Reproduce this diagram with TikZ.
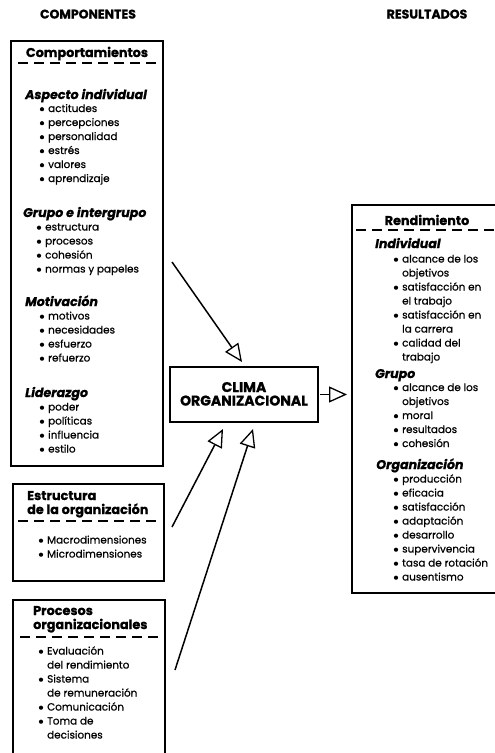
\documentclass[tikz,border=0pt]{standalone}
\usepackage{fontspec}
\setmainfont{Poppins}
\newfontfamily\itemfont{Poppins}[FakeBold=0.7]
\newfontfamily\headfont{Poppins}[FakeBold=1]
\usetikzlibrary{arrows.meta}
% bullet list: #1 name prefix, #2 x of text, #3 baseline of first line,
% #4 entries text/flag (flag 1 = line starts with a bullet)
\newcommand\blist[4]{%
  \foreach \txt/\flag [count=\i] in {#4} {%
    \node[item] (#1-\i) at (#2, {#3+14*(\i-1)}) {\txt};
    \ifnum\flag=1 \fill ([xshift=-6pt, yshift=2.8pt]#1-\i.base west) circle (2.1pt);\fi
  }}
\begin{document}
\begin{tikzpicture}[x=1pt, y=-1pt,
  frame/.style={draw, line width=1.2pt, inner sep=0pt, outer sep=0pt, anchor=north west},
  sep/.style={line width=1.3pt, dash pattern=on 10pt off 6pt},
  item/.style={anchor=base west, inner sep=0pt, font=\itemfont\fontsize{10.4}{12}\selectfont},
  subhead/.style={anchor=base west, inner sep=0pt, font=\headfont\fontsize{12.6}{14}\selectfont\bfseries\itshape},
  boxhead/.style={anchor=base west, inner sep=0pt, font=\headfont\fontsize{12.8}{14}\selectfont\bfseries},
  coltitle/.style={anchor=base, inner sep=0pt, font=\headfont\fontsize{12.5}{14}\selectfont\bfseries},
  climatext/.style={anchor=base, inner sep=0pt, font=\headfont\fontsize{14}{15}\selectfont\bfseries},
  feed/.style={line width=1.5pt, -{Triangle[open, length=18pt, width=16pt, line width=1.3pt]}}
]
\useasboundingbox (0,0) rectangle (495,753);
\clip (0,0) rectangle (495,753);

% column titles
\node[coltitle] (tcomp) at (88,18.5) {COMPONENTES};
\node[coltitle] (tres) at (427,18.5) {RESULTADOS};

% ---- Comportamientos
\node[frame, minimum width=152pt, minimum height=425pt] (comp) at (11,41) {};
\node[boxhead, anchor=base] (comph) at (87,57) {Comportamientos};
\draw[sep] (18,63) -- (158,63);
\node[subhead] (ai) at (25,99) {Aspecto individual};
\blist{aii}{48}{112}{actitudes/1, percepciones/1, personalidad/1, estrés/1, valores/1, aprendizaje/1}
\node[subhead] (gi) at (23,217) {Grupo e intergrupo};
\blist{gii}{45}{230.5}{estructura/1, procesos/1, cohesión/1, normas y papeles/1}
\node[subhead] (mo) at (25,306) {Motivación};
\blist{moi}{48}{319.5}{motivos/1, necesidades/1, esfuerzo/1, refuerzo/1}
\node[subhead] (li) at (25,397) {Liderazgo};
\blist{lii}{48}{410.5}{poder/1, políticas/1, influencia/1, estilo/1}

% ---- Estructura de la organizacion
\node[frame, minimum width=151pt, minimum height=97pt] (estr) at (13,484) {};
\node[boxhead] (estrh1) at (27,500) {Estructura};
\node[boxhead] (estrh2) at (27,514) {de la organización};
\draw[sep] (18,521) -- (158,521);
\blist{esi}{47}{543.5}{Macrodimensiones/1, Microdimensiones/1}

% ---- Procesos organizacionales (runs off the lower edge)
\node[frame, minimum width=152pt, minimum height=170pt] (proc) at (13,600) {};
\node[boxhead] (proch1) at (33,615) {Procesos};
\node[boxhead] (proch2) at (33,629) {organizacionales};
\draw[sep] (20,637) -- (158,637);
\blist{pri}{47}{654.5}{Evaluación/1, del rendimiento/0, Sistema/1, de remuneración/0, Comunicación/1, Toma de/1, decisiones/0}

% ---- Clima organizacional
\node[frame, minimum width=148pt, minimum height=55pt] (clima) at (170,367) {};
\node[climatext] (cl1) at (244,392) {CLIMA};
\node[climatext] (cl2) at (244,405.5) {ORGANIZACIONAL};

% ---- Rendimiento (runs off the right edge)
\node[frame, minimum width=160pt, minimum height=388pt] (rend) at (352,205) {};
\node[boxhead, anchor=base] (rendh) at (427,225) {Rendimiento};
\draw[sep] (356,230) -- (495,230);
\node[subhead] (ind) at (375,248) {Individual};
\blist{indi}{402}{262.5}{alcance de los/1, objetivos/0, satisfacción en/1, el trabajo/0, satisfacción en/1, la carrera/0, calidad del/1, trabajo/0}
\node[subhead] (gru) at (375,378) {Grupo};
\blist{grui}{402}{391}{alcance de los/1, objetivos/0, moral/1, resultados/1, cohesión/1}
\node[subhead] (org) at (376,469) {Organización};
\blist{orgi}{402}{482.5}{producción/1, eficacia/1, satisfacción/1, adaptación/1, desarrollo/1, supervivencia/1, tasa de rotación/1, ausentismo/1}

% ---- connectors
\coordinate (s1) at (172,262);
\coordinate (s2) at (172,527);
\coordinate (s3) at (175,670);
\coordinate (e1) at ([xshift=-2pt, yshift=5pt]clima.north);
\coordinate (e2) at ([xshift=-21pt, yshift=-7pt]clima.south);
\coordinate (e3) at ([xshift=9pt, yshift=-7pt]clima.south);
\coordinate (e4) at ([xshift=29pt]clima.east);
\draw[feed] (s1) -- (e1);
\draw[feed] (s2) -- (e2);
\draw[feed] (s3) -- (e3);
\draw[feed] ([xshift=2pt]clima.east) -- (e4);
\end{tikzpicture}
\end{document}
